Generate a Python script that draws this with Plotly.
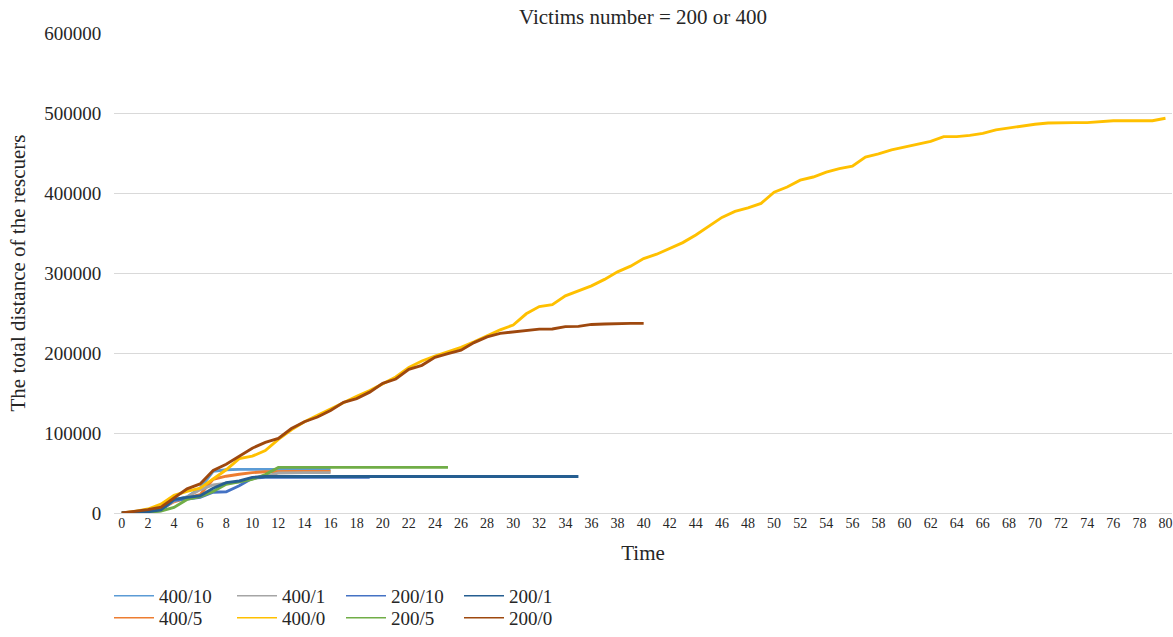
import plotly.graph_objects as go

# Simulation time steps and cumulative rescuer distance for each configuration
t_400_10 = list(range(0, 17))
d_400_10 = [0, 500, 1500, 5000, 16000, 20000, 31000, 52000, 54000, 54500, 54500,
            54500, 54500, 54500, 54500, 54500, 54500]

t_400_5 = list(range(0, 17))
d_400_5 = [0, 500, 1500, 5000, 14000, 19000, 23000, 42000, 46000, 48500, 50500,
           51500, 52000, 52000, 52000, 52000, 52000]

t_400_1 = list(range(0, 17))
d_400_1 = [0, 500, 1500, 5000, 15000, 20000, 29000, 35000, 37000, 39000, 43000,
           46000, 50000, 50500, 50500, 50500, 50500]

t_400_0 = list(range(0, 81))
d_400_0 = [0, 2000, 5000, 11000, 22000, 27000, 31000, 42000, 54000, 68000,
           71000, 78000, 92000, 104000, 114000, 122000, 130000, 139000, 146000, 153000,
           162000, 170000, 182000, 190000, 196000, 202000, 207000, 214000, 222000, 229000,
           235000, 249000, 258000, 260500, 271500, 278000, 284000, 292000, 301500, 308500,
           318000, 323500, 330500, 338000, 347500, 358000, 369500, 377000, 381500, 387000,
           401000, 407500, 416000, 420000, 426000, 430500, 433500, 445000, 449000, 454000,
           457500, 461000, 464500, 470500, 470500, 472000, 474500, 479000, 481500, 483500,
           486000, 487500, 488000, 488000, 488000, 489500, 490400, 490400, 490400, 490400,
           493400]

t_200_10 = list(range(0, 20))
d_200_10 = [0, 500, 1000, 3000, 16000, 17500, 19500, 26000, 26500, 34000, 43500,
            44500, 44500, 44500, 44500, 44500, 44500, 44500, 44500, 44500]

t_200_5 = list(range(0, 26))
d_200_5 = [0, 300, 800, 2500, 7000, 17000, 20500, 27000, 36000, 39000, 42000,
           48000, 57000, 57000, 57000, 57000, 57000, 57000, 57000, 57000, 57000,
           57000, 57000, 57000, 57000, 57000]

t_200_1 = list(range(0, 36))
d_200_1 = [0, 500, 1500, 4000, 17000, 19500, 21500, 31000, 38000, 40000, 44500,
           45700] + [45700] * 24

t_200_0 = list(range(0, 41))
d_200_0 = [0, 1900, 4200, 7300, 18500, 30200, 36300, 53200, 61000, 71000,
           81000, 88300, 93300, 105600, 114100, 120000, 128100, 138300, 143000, 151100,
           162000, 167500, 179700, 184600, 194600, 199100, 203500, 213000, 220100, 224500,
           226500, 228300, 229800, 230000, 233000, 233300, 235700, 236200, 237000, 237000,
           237000]

x_ticks = list(range(0, 81, 2))
y_ticks = [0, 100000, 200000, 300000, 400000, 500000, 600000]

# name, times, distances, colour
series = [
    ("400/10", t_400_10, d_400_10, "#5B9BD5"),
    ("400/5", t_400_5, d_400_5, "#ED7D31"),
    ("400/1", t_400_1, d_400_1, "#A5A5A5"),
    ("400/0", t_400_0, d_400_0, "#FFC000"),
    ("200/10", t_200_10, d_200_10, "#4472C4"),
    ("200/5", t_200_5, d_200_5, "#70AD47"),
    ("200/1", t_200_1, d_200_1, "#255E91"),
    ("200/0", t_200_0, d_200_0, "#9E480E"),
]

FONT = "Liberation Serif"
TEXT = "#262626"
GRID = "#D9D9D9"
W, H = 1173, 637
ML, MR, MT, MB = 114, 1, 33, 123
PW, PH = W - ML - MR, H - MT - MB

fig = go.Figure()
for name, t, d, color in series:
    fig.add_trace(go.Scatter(
        x=t, y=d, mode="lines", name=name, showlegend=False,
        line=dict(color=color, width=2.9),
    ))

# Legend laid out column by column in two rows below the axis
legend_cols = [109, 232, 341, 459]
legend_rows = [596, 618]
legends = {}
for i, (name, _, _, color) in enumerate(series):
    key = "legend" if i == 0 else f"legend{i + 1}"
    col, row = divmod(i, 2)
    fig.add_trace(go.Scatter(
        x=[None], y=[None], mode="lines", name=name, legend=key,
        line=dict(color=color, width=1.5),
    ))
    legends[key] = dict(
        orientation="v", xref="paper", yref="paper",
        x=(legend_cols[col] - ML) / PW, y=(H - MB - legend_rows[row]) / PH,
        xanchor="left", yanchor="middle",
        font=dict(family=FONT, size=19, color=TEXT),
        itemwidth=40, bgcolor="rgba(0,0,0,0)", borderwidth=0,
        itemclick=False, itemdoubleclick=False,
    )

fig.update_layout(
    width=W, height=H,
    margin=dict(l=ML, r=MR, t=MT, b=MB),
    paper_bgcolor="white", plot_bgcolor="white",
    font=dict(family=FONT, color=TEXT),
    title=dict(
        text="Victims number = 200 or 400",
        x=0.5, xref="paper", y=1 - 17 / H, yref="container",
        xanchor="center", yanchor="middle",
        font=dict(family=FONT, size=21, color=TEXT),
    ),
    xaxis=dict(
        range=[-0.6, 80.5],
        tickvals=x_ticks, ticktext=[str(v) for v in x_ticks], tickangle=0,
        showgrid=False, zeroline=False, showline=False,
        ticks="",
        tickfont=dict(family=FONT, size=14, color=TEXT),
        title=dict(text="Time", standoff=15,
                   font=dict(family=FONT, size=21, color=TEXT)),
    ),
    yaxis=dict(
        range=[0, 600000],
        tickvals=y_ticks, tickformat="d",
        showgrid=True, gridcolor=GRID, gridwidth=1.3,
        zeroline=True, zerolinecolor=GRID, zerolinewidth=1.3,
        showline=False,
        ticks="outside", ticklen=8, tickcolor="rgba(0,0,0,0)",
        tickfont=dict(family=FONT, size=19, color=TEXT),
        title=dict(text="The total distance of the rescuers", standoff=12,
                   font=dict(family=FONT, size=21, color=TEXT)),
    ),
    **legends,
)

fig.write_html("out.html")
